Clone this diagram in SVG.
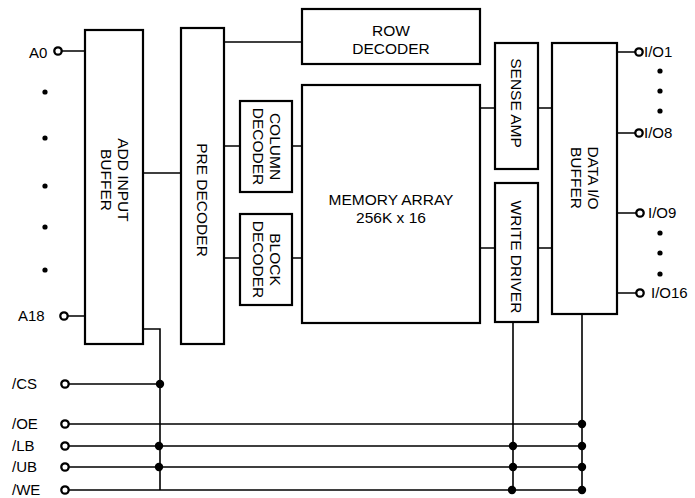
<svg xmlns="http://www.w3.org/2000/svg" width="695" height="498" viewBox="0 0 695 498">
<style>
.box{fill:#fff;stroke:#000;stroke-width:2.2}
.ln{fill:none;stroke:#000;stroke-width:1.6}
.pin{fill:#fff;stroke:#000;stroke-width:2.3}
.jd{fill:#000}
.ed{fill:#000}
text{font-family:"Liberation Sans",Arial,sans-serif;font-size:15.5px;fill:#000}
.c{text-anchor:middle}
.lbl{font-size:15px}
</style>
<rect width="695" height="498" fill="#fff"/>
<g id="connectors">
<path class="ln" d="M62 51H85M68 316H85M143 173H181M224 42H302M224 146H240M292 146H302M224 258H240M292 258H302M480 108H495M538 108H552M480 248H495M538 248H552M617 52H635M617 133H635M617 213H636M617 293H636"/>
<path class="ln" d="M143 329H160V490M69 384H160M69 424H582M69 446H582M69 467H582M69 490H582M513 322V490M582 314V490"/>
</g>
<g id="add-input-buffer"><rect class="box" x="85" y="30" width="58" height="314"/>
<text class="c" transform="translate(114 180) rotate(90)"><tspan x="0" dy="-4">ADD INPUT</tspan><tspan x="0" dy="17">BUFFER</tspan></text></g>
<g id="pre-decoder"><rect class="box" x="181" y="28" width="43" height="316"/>
<text class="c" transform="translate(202 200) rotate(90)" dy="5">PRE DECODER</text></g>
<g id="row-decoder"><rect class="box" x="302" y="9" width="178" height="55"/>
<text class="c" x="391" y="36">ROW</text><text class="c" x="391" y="54">DECODER</text></g>
<g id="memory-array"><rect class="box" x="302" y="85" width="178" height="238"/>
<text class="c" x="391" y="205">MEMORY ARRAY</text><text class="c" x="391" y="223">256K x 16</text></g>
<g id="column-decoder"><rect class="box" x="240" y="101" width="52" height="91"/>
<text class="c" transform="translate(266 146.5) rotate(90)"><tspan x="0" dy="-4">COLUMN</tspan><tspan x="0" dy="17">DECODER</tspan></text></g>
<g id="block-decoder"><rect class="box" x="240" y="214" width="52" height="91"/>
<text class="c" transform="translate(266 259.5) rotate(90)"><tspan x="0" dy="-4">BLOCK</tspan><tspan x="0" dy="17">DECODER</tspan></text></g>
<g id="sense-amp"><rect class="box" x="495" y="43" width="43" height="126"/>
<text class="c" transform="translate(516 103) rotate(90)" dy="5">SENSE AMP</text></g>
<g id="write-driver"><rect class="box" x="495" y="183" width="43" height="139"/>
<text class="c" transform="translate(516 257) rotate(90)" dy="5">WRITE DRIVER</text></g>
<g id="data-io-buffer"><rect class="box" x="552" y="43" width="65" height="271"/>
<text class="c" transform="translate(584 178) rotate(90)"><tspan x="0" dy="-4">DATA I/O</tspan><tspan x="0" dy="17">BUFFER</tspan></text></g>
<g id="pins">
<circle class="pin" cx="58" cy="51" r="3.7"/><text class="lbl" x="29" y="58">A0</text>
<circle class="pin" cx="64" cy="316" r="3.7"/><text class="lbl" x="18" y="321">A18</text>
<circle class="pin" cx="65" cy="384" r="3.7"/><text class="lbl" x="12" y="389">/CS</text>
<circle class="pin" cx="65" cy="424" r="3.7"/><text class="lbl" x="12" y="429">/OE</text>
<circle class="pin" cx="65" cy="446" r="3.7"/><text class="lbl" x="12" y="451">/LB</text>
<circle class="pin" cx="65" cy="467" r="3.7"/><text class="lbl" x="12" y="472">/UB</text>
<circle class="pin" cx="65" cy="490" r="3.7"/><text class="lbl" x="12" y="495">/WE</text>
<circle class="pin" cx="639" cy="52" r="3.7"/><text class="lbl" x="644" y="57">I/O1</text>
<circle class="pin" cx="639" cy="133" r="3.7"/><text class="lbl" x="644" y="138">I/O8</text>
<circle class="pin" cx="640" cy="213" r="3.7"/><text class="lbl" x="648" y="218">I/O9</text>
<circle class="pin" cx="640" cy="293" r="3.7"/><text class="lbl" x="651" y="298">I/O16</text>
</g>
<g id="ellipsis">
<circle class="ed" cx="45" cy="92" r="2.6"/><circle class="ed" cx="45" cy="138" r="2.6"/><circle class="ed" cx="45" cy="186" r="2.6"/><circle class="ed" cx="45" cy="227" r="2.6"/><circle class="ed" cx="45" cy="270" r="2.6"/>
<circle class="ed" cx="660" cy="71" r="2.6"/><circle class="ed" cx="660" cy="91" r="2.6"/><circle class="ed" cx="660" cy="111" r="2.6"/>
<circle class="ed" cx="660" cy="233" r="2.6"/><circle class="ed" cx="660" cy="253" r="2.6"/><circle class="ed" cx="660" cy="274" r="2.6"/>
</g>
<g id="junctions">
<circle class="jd" cx="160" cy="384" r="4.2"/><circle class="jd" cx="159" cy="446" r="4.2"/><circle class="jd" cx="159" cy="467" r="4.2"/>
<circle class="jd" cx="582" cy="424" r="4.2"/><circle class="jd" cx="582" cy="446" r="4.2"/><circle class="jd" cx="582" cy="467" r="4.2"/><circle class="jd" cx="582" cy="490" r="4.2"/>
<circle class="jd" cx="513" cy="446" r="4.2"/><circle class="jd" cx="513" cy="467" r="4.2"/><circle class="jd" cx="512" cy="490" r="4.2"/>
</g>
</svg>
